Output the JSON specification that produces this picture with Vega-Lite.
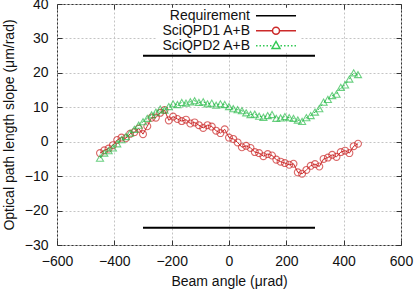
{
  "$schema": "https://vega.github.io/schema/vega-lite/v6.json",
  "autosize": {"type": "none"},
  "width": 344,
  "height": 241,
  "padding": {"left": 57, "top": 4, "right": 14, "bottom": 45},
  "background": "white",
  "config": {
    "view": {"stroke": "#333", "strokeWidth": 1},
    "font": "Liberation Sans",
    "axis": {
      "labelFont": "Liberation Sans", "labelFontSize": 14, "labelColor": "#111",
      "titleFont": "Liberation Sans", "titleFontSize": 14, "titleFontWeight": "normal", "titleColor": "#111",
      "domain": false, "tickColor": "#333", "gridColor": "#c4c4c4", "gridDash": [2, 2]
    }
  },
  "datasets": {
    "req": [
      {"series": "Requirement", "x": -300, "x2": 300, "y": 25},
      {"series": "Requirement", "x": -300, "x2": 300, "y": -25}
    ],
    "q1": [
      {"x": -450, "y": -3.3}, {"x": -435, "y": -2.5}, {"x": -420, "y": -2.0}, {"x": -405, "y": -1.0},
      {"x": -390, "y": 0.5}, {"x": -375, "y": 1.2}, {"x": -360, "y": 1.0}, {"x": -345, "y": 2.3},
      {"x": -330, "y": 2.8}, {"x": -315, "y": 3.8}, {"x": -300, "y": 2.2}, {"x": -285, "y": 4.5},
      {"x": -270, "y": 7.0}, {"x": -255, "y": 7.0}, {"x": -240, "y": 8.4}, {"x": -225, "y": 9.2},
      {"x": -210, "y": 6.2}, {"x": -195, "y": 7.3}, {"x": -180, "y": 6.6}, {"x": -165, "y": 6.0},
      {"x": -150, "y": 6.4}, {"x": -135, "y": 5.3}, {"x": -120, "y": 5.6}, {"x": -105, "y": 4.8},
      {"x": -90, "y": 4.0}, {"x": -75, "y": 4.8}, {"x": -60, "y": 4.4}, {"x": -45, "y": 3.2},
      {"x": -30, "y": 2.5}, {"x": -15, "y": 3.6}, {"x": 0, "y": 1.2}, {"x": 15, "y": 0.8},
      {"x": 30, "y": -0.2}, {"x": 45, "y": -1.6}, {"x": 60, "y": -1.2}, {"x": 75, "y": -1.8},
      {"x": 90, "y": -3.0}, {"x": 105, "y": -3.3}, {"x": 120, "y": -4.2}, {"x": 135, "y": -3.6},
      {"x": 150, "y": -4.0}, {"x": 165, "y": -5.2}, {"x": 180, "y": -5.8}, {"x": 195, "y": -6.2},
      {"x": 210, "y": -6.7}, {"x": 225, "y": -6.4}, {"x": 240, "y": -8.9}, {"x": 255, "y": -9.3},
      {"x": 270, "y": -8.2}, {"x": 285, "y": -7.0}, {"x": 300, "y": -6.5}, {"x": 315, "y": -7.2},
      {"x": 330, "y": -5.0}, {"x": 345, "y": -4.6}, {"x": 360, "y": -3.8}, {"x": 375, "y": -4.4},
      {"x": 390, "y": -3.0}, {"x": 405, "y": -2.6}, {"x": 420, "y": -3.3}, {"x": 435, "y": -1.3},
      {"x": 450, "y": -0.6}
    ],
    "q2": [
      {"x": -450, "y": -4.8}, {"x": -435, "y": -3.3}, {"x": -420, "y": -2.6}, {"x": -405, "y": -1.8},
      {"x": -390, "y": -0.6}, {"x": -375, "y": 0.6}, {"x": -360, "y": 1.5}, {"x": -345, "y": 2.5},
      {"x": -330, "y": 3.6}, {"x": -315, "y": 4.8}, {"x": -300, "y": 5.8}, {"x": -285, "y": 6.8},
      {"x": -270, "y": 7.8}, {"x": -255, "y": 8.6}, {"x": -240, "y": 9.5}, {"x": -225, "y": 9.2},
      {"x": -210, "y": 10.2}, {"x": -195, "y": 11.0}, {"x": -180, "y": 10.8}, {"x": -165, "y": 11.4},
      {"x": -150, "y": 11.2}, {"x": -135, "y": 11.6}, {"x": -120, "y": 11.9}, {"x": -105, "y": 11.4},
      {"x": -90, "y": 11.6}, {"x": -75, "y": 11.0}, {"x": -60, "y": 11.2}, {"x": -45, "y": 10.6},
      {"x": -30, "y": 11.0}, {"x": -15, "y": 10.8}, {"x": 0, "y": 10.2}, {"x": 15, "y": 9.6},
      {"x": 30, "y": 9.3}, {"x": 45, "y": 9.0}, {"x": 60, "y": 8.4}, {"x": 75, "y": 7.9},
      {"x": 90, "y": 8.0}, {"x": 105, "y": 7.4}, {"x": 120, "y": 7.1}, {"x": 135, "y": 7.6},
      {"x": 150, "y": 7.9}, {"x": 165, "y": 6.8}, {"x": 180, "y": 6.9}, {"x": 195, "y": 7.3},
      {"x": 210, "y": 7.0}, {"x": 225, "y": 6.8}, {"x": 240, "y": 6.3}, {"x": 255, "y": 5.9},
      {"x": 270, "y": 7.0}, {"x": 285, "y": 7.6}, {"x": 300, "y": 8.6}, {"x": 315, "y": 9.6},
      {"x": 330, "y": 11.5}, {"x": 345, "y": 12.3}, {"x": 360, "y": 13.4}, {"x": 375, "y": 13.8},
      {"x": 390, "y": 15.8}, {"x": 405, "y": 16.5}, {"x": 420, "y": 18.2}, {"x": 435, "y": 20.0},
      {"x": 450, "y": 19.5}
    ],
    "leg": [
      {"series": "Requirement"},
      {"series": "SciQPD1 A+B"},
      {"series": "SciQPD2 A+B"}
    ]
  },
  "resolve": {"axis": {"x": "independent", "y": "independent"}},
  "layer": [
    {
      "data": {"name": "req"},
      "mark": {"type": "rule", "color": "black", "strokeWidth": 2},
      "encoding": {
        "x": {"field": "x", "type": "quantitative",
              "scale": {"domain": [-600, 600], "nice": false},
              "axis": {"title": "Beam angle (μrad)", "values": [-600, -400, -200, 0, 200, 400, 600], "tickSize": -5, "labelPadding": 14, "titlePadding": 6, "labelFlush": false}},
        "x2": {"field": "x2"},
        "y": {"field": "y", "type": "quantitative",
              "scale": {"domain": [-30, 40], "nice": false},
              "axis": {"title": "Optical path length slope (μm/rad)", "values": [-30, -20, -10, 0, 10, 20, 30, 40], "tickSize": -5, "labelPadding": 14, "titlePadding": 8, "labelFlush": false}}
      }
    },
    {
      "data": {"name": "q1"},
      "mark": {"type": "line", "color": "#cc2a2a", "strokeWidth": 1},
      "encoding": {
        "x": {"field": "x", "type": "quantitative",
              "axis": {"orient": "top", "labels": false, "title": null, "grid": false, "values": [-600, -400, -200, 0, 200, 400, 600], "tickSize": -5}},
        "y": {"field": "y", "type": "quantitative",
              "axis": {"orient": "right", "labels": false, "title": null, "grid": false, "values": [-30, -20, -10, 0, 10, 20, 30, 40], "tickSize": -5}}
      }
    },
    {
      "data": {"name": "q1"},
      "mark": {"type": "point", "shape": "circle", "filled": false, "color": "#cc2a2a", "size": 48, "strokeWidth": 1.1},
      "encoding": {
        "x": {"field": "x", "type": "quantitative", "axis": null},
        "y": {"field": "y", "type": "quantitative", "axis": null}
      }
    },
    {
      "data": {"name": "q2"},
      "mark": {"type": "line", "color": "#2ebd4e", "strokeWidth": 1, "strokeDash": [2, 3]},
      "encoding": {
        "x": {"field": "x", "type": "quantitative", "axis": null},
        "y": {"field": "y", "type": "quantitative", "axis": null}
      }
    },
    {
      "data": {"name": "q2"},
      "mark": {"type": "point", "shape": "triangle-up", "filled": false, "color": "#2ebd4e", "size": 50, "strokeWidth": 1.1},
      "encoding": {
        "x": {"field": "x", "type": "quantitative", "axis": null},
        "y": {"field": "y", "type": "quantitative", "axis": null}
      }
    },
    {
      "data": {"name": "leg"},
      "mark": {"type": "point", "filled": false, "opacity": 0},
      "encoding": {
        "color": {"field": "series", "type": "nominal",
                  "scale": {"domain": ["Requirement", "SciQPD1 A+B", "SciQPD2 A+B"], "range": ["#000000", "#cc2a2a", "#33c955"]},
                  "legend": {
                    "title": null, "orient": "none", "legendX": 99, "legendY": 3.7,
                    "symbolSize": 196, "labelFontSize": 14, "labelFont": "Liberation Sans", "labelColor": "#111",
                    "labelAlign": "right", "labelOffset": 78, "rowPadding": 0, "padding": 0,
                    "fillColor": "white", "symbolOpacity": 1, "labelLimit": 200,
                    "encode": {"symbols": {"update": {"fill": {"value": "transparent"}, "opacity": {"value": 1}, "strokeWidth": {"signal": "datum.value === 'Requirement' ? 2 : 1.2"}}}}
                  }},
        "shape": {"field": "series", "type": "nominal",
                  "scale": {"domain": ["Requirement", "SciQPD1 A+B", "SciQPD2 A+B"],
                            "range": ["M13.14,0L18.86,0",
                                      "M13.14,0L15.5,0M16.5,0L18.86,0M16.5,0A0.5,0.5,0,1,1,15.5,0A0.5,0.5,0,1,1,16.5,0",
                                      "M13.14,0L13.36,0M13.64,0L13.86,0M14.14,0L14.36,0M14.64,0L14.86,0M15.14,0L15.36,0M16.64,0L16.86,0M17.14,0L17.36,0M17.64,0L17.86,0M18.14,0L18.36,0M18.64,0L18.86,0M15.43,0.4L16.57,0.4L16,-0.6Z"]},
                  "legend": null}
      }
    }
  ]
}
